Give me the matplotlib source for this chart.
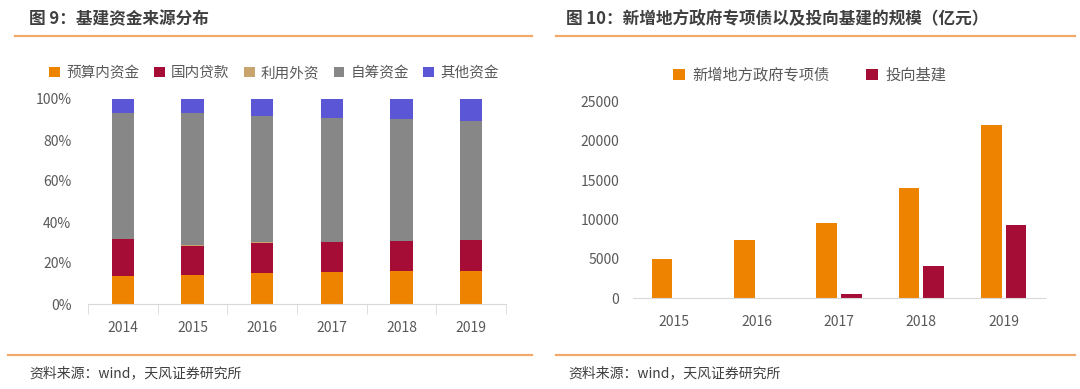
import matplotlib.pyplot as plt
import numpy as np
from matplotlib.lines import Line2D

plt.rcParams['font.family'] = ['Noto Sans CJK SC', 'DejaVu Sans']

# ---------------------------
# DATA
# ---------------------------
years_left = ["2014", "2015", "2016", "2017", "2018", "2019"]
budget = [13.8, 14.1, 15.1, 15.4, 16.3, 16.3]        # 预算内资金
loans = [18.0, 14.4, 14.9, 14.9, 14.3, 14.8]         # 国内贷款
foreign = [0.1, 0.1, 0.1, 0.1, 0.1, 0.1]             # 利用外资
self_raised = [61.1, 64.7, 61.8, 60.5, 59.7, 57.9]   # 自筹资金
others = [7.0, 6.7, 8.1, 9.1, 9.6, 10.9]             # 其他资金
left_names = ["预算内资金", "国内贷款", "利用外资", "自筹资金", "其他资金"]

years_right = ["2015", "2016", "2017", "2018", "2019"]
special_bonds = [5000, 7330, 9490, 14030, 22080]
to_infra = [0, 0, 510, 4070, 9280]
right_names = ["新增地方政府专项债", "投向基建"]

# ---------------------------
# STYLE
# ---------------------------
W, H = 1080, 389
ORANGE = "#EE8300"
RED = "#A50D36"
TAN = "#C9A46F"
GRAY = "#878787"
BLUE = "#5B56D6"
LINE = "#F2A96B"
TXT = "#595959"

fig = plt.figure(figsize=(W / 100, H / 100), dpi=100)


def px_axes(x0, y_top, x1, y_bot):
    return fig.add_axes([x0 / W, 1 - y_bot / H, (x1 - x0) / W, (y_bot - y_top) / H])


def hline(x0, x1, y):
    fig.add_artist(Line2D([x0 / W, x1 / W], [1 - y / H, 1 - y / H], color=LINE, lw=1.6))


# titles and rules
fig.text(29 / W, 1 - 19 / H, "图 9：基建资金来源分布", fontsize=12, fontweight="bold",
         color="#3F3F3F", va="center")
fig.text(566 / W, 1 - 19 / H, "图 10：新增地方政府专项债以及投向基建的规模（亿元）", fontsize=12,
         fontweight="bold", color="#3F3F3F", va="center")
hline(15, 532, 36)
hline(556, 1075, 36)
hline(8, 532, 355)
hline(556, 1075, 355)
fig.text(29 / W, 1 - 373 / H, "资料来源：wind，天风证券研究所", fontsize=10, color="#3F3F3F", va="center")
fig.text(568 / W, 1 - 373 / H, "资料来源：wind，天风证券研究所", fontsize=10, color="#3F3F3F", va="center")

# ---------------------------
# LEFT: stacked percentage bars
# ---------------------------
ax = px_axes(88, 99, 506, 304)
x = np.arange(len(years_left))
bottom = np.zeros(len(years_left))
for vals, name, c in zip([budget, loans, foreign, self_raised, others], left_names,
                         [ORANGE, RED, TAN, GRAY, BLUE]):
    v = np.array(vals) / 100
    ax.bar(x, v, 0.32, bottom=bottom, color=c, label=name)
    bottom += v
ax.set_xlim(-0.5, len(years_left) - 0.5)
ax.set_ylim(0, 1)
ax.set_yticks(np.arange(0, 1.01, 0.2))
ax.set_yticklabels([f"{int(round(t * 100))}%" for t in np.arange(0, 1.01, 0.2)])
ax.set_xticks(x)
ax.set_xticklabels(years_left)
ax.set_xticks(np.arange(-0.5, len(years_left)), minor=True)
ax.tick_params(axis="x", which="major", length=0, pad=12, labelsize=10, labelcolor=TXT)
ax.tick_params(axis="x", which="minor", length=7, color="#D9D9D9", direction="out")
ax.tick_params(axis="y", length=0, labelsize=10, labelcolor=TXT, pad=12)
for s in ["top", "right", "left"]:
    ax.spines[s].set_visible(False)
ax.spines["bottom"].set_color("#D9D9D9")
fig.legend(*ax.get_legend_handles_labels(), loc="center", bbox_to_anchor=(274 / W, 1 - 73 / H),
           ncol=5, frameon=False, fontsize=10.5, handlelength=0.75, handleheight=0.75,
           handletextpad=0.4, columnspacing=1.0, labelcolor=TXT)

# ---------------------------
# RIGHT: grouped bars
# ---------------------------
ax2 = px_axes(633, 101.7, 1045, 298)
x2 = np.arange(len(years_right))
ax2.bar(x2 - 0.15, special_bonds, 0.25, color=ORANGE, label=right_names[0])
ax2.bar(x2 + 0.15, to_infra, 0.25, color=RED, label=right_names[1])
ax2.set_xlim(-0.5, len(years_right) - 0.5)
ax2.set_ylim(0, 25000)
ax2.set_yticks(range(0, 25001, 5000))
ax2.set_xticks(x2)
ax2.set_xticklabels(years_right)
ax2.tick_params(axis="x", length=0, pad=12, labelsize=10, labelcolor=TXT)
ax2.tick_params(axis="y", length=0, labelsize=10, labelcolor=TXT, pad=10)
for s in ["top", "right", "left"]:
    ax2.spines[s].set_visible(False)
ax2.spines["bottom"].set_color("#D9D9D9")
fig.legend(*ax2.get_legend_handles_labels(), loc="center", bbox_to_anchor=(810 / W, 1 - 75 / H),
           ncol=2, frameon=False, fontsize=11, handlelength=0.75, handleheight=0.75,
           handletextpad=0.5, columnspacing=2.4, labelcolor=TXT)

fig.savefig("out.png", dpi=100, facecolor="white")
